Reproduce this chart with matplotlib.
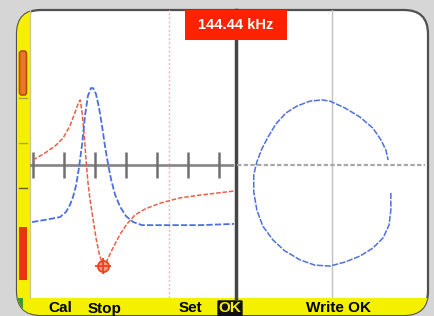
import numpy as np
import matplotlib
matplotlib.use('Agg')
import matplotlib.pyplot as plt
from matplotlib.patches import FancyBboxPatch, Rectangle

# screen divisions (1 div = tick spacing), left panel: time trace
blue_x = [-0.03, 0.39, 0.87, 1.06, 1.19, 1.29, 1.39, 1.48, 1.58, 1.68, 1.77, 1.87, 1.94,
          2.03, 2.13, 2.23, 2.32, 2.42, 2.52, 2.65, 2.81, 3.00, 3.23, 3.52, 4.10, 5.39, 6.48]
blue_y = [-1.84, -1.77, -1.68, -1.52, -1.29, -1.03, -0.65, -0.10, 0.65, 1.61, 2.23, 2.48, 2.48,
          2.29, 1.84, 1.23, 0.61, 0.03, -0.48, -0.97, -1.35, -1.65, -1.84, -1.94, -1.94, -1.94, -1.90]

red_x = [0.00, 0.39, 0.71, 0.97, 1.19, 1.35, 1.45, 1.52, 1.58, 1.65, 1.71, 1.77, 1.84, 1.94,
         2.03, 2.13, 2.23, 2.32, 2.45, 2.61, 2.81, 3.03, 3.29, 3.61, 4.10, 4.74, 5.39, 6.48]
red_y = [0.16, 0.39, 0.61, 0.87, 1.26, 1.68, 1.97, 2.10, 1.71, 0.97, 0.16, -0.55, -1.13, -1.77,
         -2.35, -2.84, -3.16, -3.23, -2.94, -2.61, -2.23, -1.90, -1.61, -1.42, -1.23, -1.06, -0.97, -0.84]

cursor_x, cursor_y = 2.26, -3.26
gate_x = 4.39
tick_pos = [0, 1, 2, 3, 4, 5, 6]

# right panel: impedance plane (x-y)
liss_x = [1.90, 1.90, 1.84, 1.65, 1.32, 0.90, 0.42, -0.06, -0.55, -1.03, -1.52, -1.90, -2.23,
          -2.42, -2.52, -2.52, -2.42, -2.26, -2.06, -1.81, -1.48, -1.13, -0.71, -0.32, -0.06,
          0.42, 0.90, 1.32, 1.58, 1.74, 1.81]
liss_y = [-0.90, -1.45, -1.94, -2.35, -2.68, -2.94, -3.13, -3.26, -3.23, -3.06, -2.77, -2.42, -1.97,
          -1.45, -0.87, -0.32, 0.10, 0.52, 0.90, 1.32, 1.68, 1.90, 2.06, 2.10, 2.06,
          1.84, 1.55, 1.19, 0.81, 0.48, 0.16]

freq_label = '144.44 kHz'
softkeys = ['Cal', 'Stop', 'Set', 'Write OK']
softkey_x = [60, 105, 190, 338]

W, H = 434, 316
fig = plt.figure(figsize=(W / 100, H / 100), dpi=100)
fig.patch.set_facecolor('#d6d6d6')

# frame / bezel drawn in pixel coords
bg = fig.add_axes([0, 0, 1, 1])
bg.set_xlim(0, W)
bg.set_ylim(H, 0)
bg.axis('off')

panel = FancyBboxPatch((17, 10), 411, 305, boxstyle='round,pad=0,rounding_size=24',
                       facecolor='white', edgecolor='#505050', lw=1.6, zorder=1)
bg.add_patch(panel)

yellow = '#f5f000'
strip = Rectangle((17, 0), 13, 330, facecolor=yellow, edgecolor='none', zorder=2)
bar = Rectangle((0, 298), W, 30, facecolor=yellow, edgecolor='none', zorder=2)
green = Rectangle((17, 298), 6, 20, facecolor='#3c9a28', edgecolor='none', zorder=3)
for p in (strip, bar, green):
    bg.add_patch(p)
    p.set_clip_path(panel)
bg.plot([30, 30], [10, 298], color='#c8c890', lw=1, zorder=3)

# indicators on left strip
bg.add_patch(FancyBboxPatch((19.5, 51), 7, 44, boxstyle='round,pad=0,rounding_size=2.5',
                            facecolor='#e87828', edgecolor='#b84a10', lw=1.2, zorder=4))
bg.add_patch(Rectangle((19, 227), 8, 53, facecolor='#e83414', edgecolor='none', zorder=4))
for yy, c in [(98, '#a8a840'), (143, '#a8a840'), (188, '#606030')]:
    bg.plot([19, 27], [yy, yy], color=c, lw=1, zorder=4)

# divider
bg.plot([235.5, 235.5], [10, 298], color='#454545', lw=2.5, zorder=3)

# frequency box
bg.add_patch(Rectangle((185, 10), 102, 30, facecolor='#ff2200', edgecolor='none', zorder=6))
bg.text(236, 25, freq_label, color='white', fontsize=10.5, fontweight='bold',
        family='Liberation Sans', ha='center', va='center', zorder=7)

# soft keys
for lab, xx in zip(softkeys, softkey_x):
    bg.text(xx, 308.5, lab, color='black', fontsize=11, fontweight='bold',
            family='Liberation Sans', ha='center', va='center', zorder=7)
bg.text(230, 308.5, 'OK', color=yellow, fontsize=11, fontweight='bold', family='Liberation Sans',
        ha='center', va='center', zorder=7,
        bbox=dict(boxstyle='round,pad=0.08', facecolor='#101010', edgecolor='none'))

ylim = (-4.29, 5.0)

# left panel
axl = fig.add_axes([30 / W, (H - 298) / H, (234 - 30) / W, 288 / H])
axl.patch.set_alpha(0)
axl.set_xlim(-0.097, 6.48)
axl.set_ylim(*ylim)
axl.axis('off')
axl.axvline(gate_x, color='#f2b4b4', lw=1, ls=(0, (1.5, 1.5)))
axl.axhline(0, color='#8a8a8a', lw=2)
axl.vlines(tick_pos, -0.42, 0.42, color='#707070', lw=1.8)
axl.plot(red_x, red_y, color='#e86048', lw=1.1, ls=(0, (3, 1.2)))
axl.plot(blue_x, blue_y, color='#4d6fdc', lw=1.3, ls=(0, (3.5, 1.2)))
axl.plot(cursor_x, cursor_y, marker='o', ms=8, mfc='#f4a080', mec='#f04020', mew=1.3)
axl.plot(cursor_x, cursor_y, marker='+', ms=11, mec='#f04020', mew=1.3)

# right panel
axr = fig.add_axes([237 / W, (H - 298) / H, (425 - 237) / W, 288 / H])
axr.patch.set_alpha(0)
axr.set_xlim(-3.06, 3.0)
axr.set_ylim(*ylim)
axr.axis('off')
axr.axvline(0, color='#c0c0c0', lw=1)
axr.axhline(0, color='#a8a8a8', lw=1.6, ls=(0, (2, 1)))
axr.plot(liss_x, liss_y, color='#5070dc', lw=1.1, ls=(0, (4, 1)))

fig.savefig('out.png', dpi=100, facecolor=fig.get_facecolor())
